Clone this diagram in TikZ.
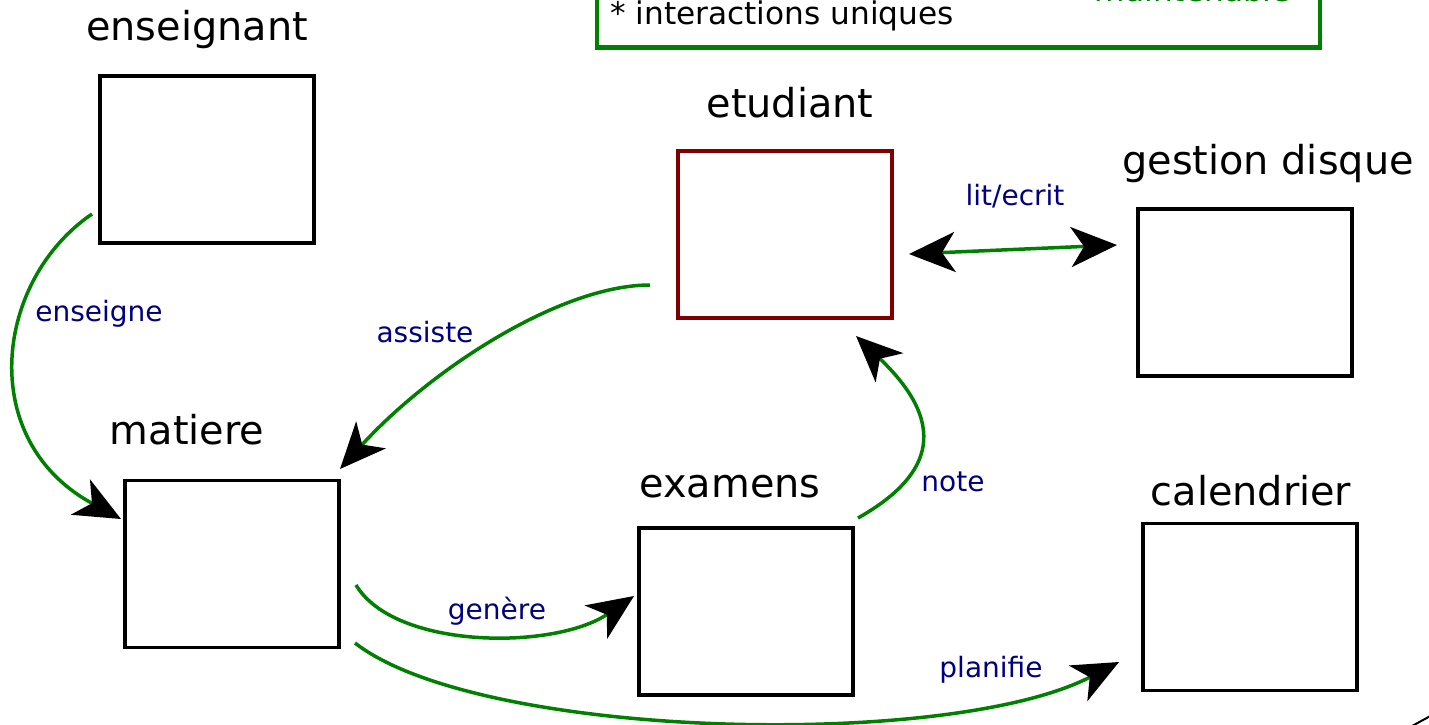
\documentclass[tikz,border=0pt]{standalone}
\usepackage{fontspec}
\setmainfont{DejaVu Sans}
\usetikzlibrary{arrows.meta}
\definecolor{lgreen}{RGB}{0,128,0}
\definecolor{lnavy}{RGB}{0,0,128}
\definecolor{ldred}{RGB}{128,0,0}
\tikzset{
  box/.style={draw=black, line width=3.5pt, minimum width=214pt, minimum height=167pt, inner sep=0pt},
  title/.style={anchor=base, inner sep=0pt, font=\fontsize{39.8}{47}\selectfont},
  elbl/.style={anchor=base, inner sep=0pt, text=lnavy, font=\fontsize{28}{33}\selectfont},
  bigtip/.tip={Stealth[length=46pt,width=40pt,inset=13pt,color=black]},
  conn/.style={draw=lgreen, line width=3.5pt, -bigtip},
}
\begin{document}
\begin{tikzpicture}[x=1pt,y=-1pt]
\useasboundingbox (0,0) rectangle (1429,724);
\clip (0,0) rectangle (1429,724);
\fill[white] (0,0) rectangle (1429,724);

% legend box (cut at top)
\node[draw=lgreen, line width=4.5pt, minimum width=723pt, minimum height=95pt, inner sep=0pt] (legend) at (958.5,0) {};
\node[anchor=base west, inner sep=0pt, font=\fontsize{31.2}{36}\selectfont] (l1) at (610,24) {* interactions uniques};
\node[anchor=base east, inner sep=0pt, text=lgreen, font=\fontsize{31.2}{36}\selectfont] (l0) at (1291,1.5) {* maintenable};

% boxes
\node[box] (ens) at (207,159.5) {};
\node[box, draw=ldred] (etu) at (785,234.5) {};
\node[box] (disk) at (1245,292.5) {};
\node[box] (mat) at (232,564) {};
\node[box] (exa) at (746,611.5) {};
\node[box] (cal) at (1250,607) {};

% titles
\node[title] (tens) at (197,40) {enseignant};
\node[title] (tetu) at (790,117) {etudiant};
\node[title] (tdisk) at (1268,174) {gestion disque};
\node[title] (tmat) at (187,444) {matiere};
\node[title] (texa) at (730,497) {examens};
\node[title] (tcal) at (1251,505) {calendrier};

% connector end points
\coordinate (ensS) at (92,214);
\coordinate (matE1) at (121,519);
\coordinate (etuS) at (650,285);
\coordinate (matE2) at (340,469);
\coordinate (etuR) at (909,254);
\coordinate (diskL) at (1117,245);
\coordinate (exaS) at (858,518);
\coordinate (etuE) at (856,336);
\coordinate (matS1) at (356,585);
\coordinate (exaE) at (634,596);
\coordinate (matS2) at (355,643);
\coordinate (calE) at (1119,662);

% connectors
\draw[conn] (ensS) .. controls (-5,280) and (-25,440) .. (matE1);
\draw[conn] (etuS) .. controls (560,285) and (430,370) .. (matE2);
\draw[conn, bigtip-bigtip] (etuR) -- (diskL);
\draw[conn] (exaS) .. controls (925,480) and (955,430) .. (etuE);
\draw[conn] (matS1) .. controls (395,650) and (555,650) .. (exaE);
\draw[conn] (matS2) .. controls (480,740) and (950,750) .. (calE);

% labels
\node[elbl] (lens) at (99,321) {enseigne};
\node[elbl] (lass) at (425,342) {assiste};
\node[elbl] (llit) at (1015,205) {lit/ecrit};
\node[elbl] (lnote) at (953,491) {note};
\node[elbl] (lgen) at (497,619) {genère};
\node[elbl] (lpla) at (991,677) {planifie};

% fragment at bottom right corner
\coordinate (fragA) at (1412,726);
\coordinate (fragB) at (1434,714);
\draw[line width=2pt] (fragA) -- (fragB);
\end{tikzpicture}
\end{document}
